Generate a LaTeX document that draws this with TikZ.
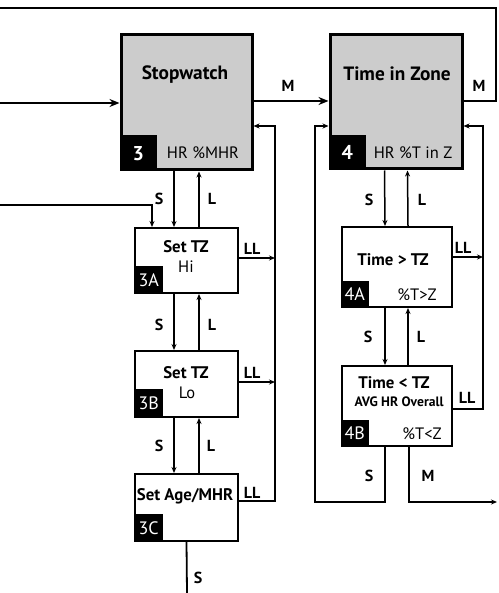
\documentclass[tikz,border=0pt]{standalone}
\usepackage{fontspec}
\setmainfont{PT Sans}
\usetikzlibrary{arrows.meta,calc}
\definecolor{boxgray}{gray}{0.8}
\begin{document}
\begin{tikzpicture}[x=1pt,y=-1pt,
  bigbox/.style={draw, line width=3pt, fill=boxgray, inner sep=0pt},
  smallbox/.style={draw, line width=2pt, fill=white, inner sep=0pt},
  tagbox/.style={fill=black, text=white, inner sep=0pt, anchor=south west, font=\fontsize{18}{20}\selectfont},
  bigtag/.style={tagbox, font=\bfseries\fontsize{20}{22}\selectfont},
  bigtitle/.style={font=\bfseries\fontsize{19.3}{22}\selectfont, inner sep=0pt},
  title/.style={font=\bfseries\fontsize{16.8}{19}\selectfont, inner sep=0pt},
  sub/.style={font=\fontsize{16.5}{18}\selectfont, inner sep=0pt},
  lbl/.style={font=\bfseries\fontsize{16}{18}\selectfont, inner sep=0pt},
  conn/.style={line width=1.5pt, -{Stealth[length=6pt,width=5pt]}},
  line/.style={line width=1.8pt},
  railarr/.style={line width=1.8pt, -{Stealth[length=6pt,width=5pt]}},
  thickarr/.style={line width=2.6pt, -{Stealth[length=10pt,width=8pt]}},
  thickline/.style={line width=2.6pt}
]
\useasboundingbox (0,0) rectangle (498,593);

% main boxes
\node[bigbox, minimum width=131pt, minimum height=135pt] (sw) at (186.5,102.5) {};
\node[bigbox, minimum width=132pt, minimum height=134pt] (tz) at (396,102) {};
\node[bigtag, minimum width=37pt, minimum height=36pt] (swtag) at (sw.south west) {3};
\node[bigtag, minimum width=37pt, minimum height=35pt] (tztag) at (tz.south west) {4};
\node[bigtitle] (swt) at (185,75) {Stopwatch};
\node[sub] (sws) at (203,153) {HR \%MHR};
\node[bigtitle] (tzt) at (397,74) {Time in Zone};
\node[sub] (tzs) at (413,153) {HR \%T in Z};

% left column
\node[smallbox, minimum width=103pt, minimum height=65pt] (a3) at (186.5,260.5) {};
\node[smallbox, minimum width=103pt, minimum height=66pt] (b3) at (186.5,384) {};
\node[smallbox, minimum width=103pt, minimum height=67pt] (c3) at (186.5,507.5) {};
\node[tagbox, minimum width=29pt, minimum height=28pt] (a3tag) at (a3.south west) {3A};
\node[tagbox, minimum width=29pt, minimum height=29pt] (b3tag) at (b3.south west) {3B};
\node[tagbox, minimum width=29pt, minimum height=28pt] (c3tag) at (c3.south west) {3C};
\node[title] (a3t) at (186,247) {Set TZ};
\node[sub] (a3s) at (186,267) {Hi};
\node[title] (b3t) at (186,373) {Set TZ};
\node[sub] (b3s) at (187,393) {Lo};
\node[title] (c3t) at (185,496) {Set Age/MHR};

% right column
\node[smallbox, minimum width=110pt, minimum height=80pt] (a4) at (396.5,267) {};
\node[smallbox, minimum width=110pt, minimum height=80pt] (b4) at (396.5,406) {};
\node[tagbox, minimum width=28pt, minimum height=27pt] (a4tag) at (a4.south west) {4A};
\node[tagbox, minimum width=28pt, minimum height=27pt] (b4tag) at (b4.south west) {4B};
\node[title] (a4t) at (393,260) {Time > TZ};
\node[sub] (a4s) at (417,295) {\%T>Z};
\node[title] (b4t) at (394,383) {Time < TZ};
\node[font=\bfseries\fontsize{13.6}{15}\selectfont, inner sep=0pt] (b4m) at (399,402) {AVG HR Overall};
\node[sub] (b4s) at (422,434) {\%T<Z};

% free-end coordinates
\coordinate (inA) at (0,103);
\coordinate (inB) at (0,205);
\coordinate (topL) at (0,8);
\coordinate (topR) at (496,8);
\coordinate (loopR) at (496,101);
\coordinate (r1top) at (275,126);
\coordinate (r1bot) at (275,501);
\coordinate (r2top) at (483,126);
\coordinate (r3top) at (315,126);
\coordinate (r3bot) at (315,502);
\coordinate (outM) at (497,502);
\coordinate (outS) at (187,593);

% top connectors
\draw[thickarr] (inA) -- (inA -| sw.west);
\draw[thickarr] ([yshift=1.5pt]sw.east) -- ([yshift=1pt]tz.west);
\draw[thickline] ([yshift=1pt]tz.east) -- (loopR) -- (topR) -- (topL);

% left column S / L
\draw[conn] ([xshift=-12.5pt]sw.south) -- ([xshift=-12.5pt]a3.north);
\draw[conn] ([xshift=12.5pt]a3.north) -- ([xshift=12.5pt]sw.south);
\draw[conn] ([xshift=-12.5pt]a3.south) -- ([xshift=-12.5pt]b3.north);
\draw[conn] ([xshift=12.5pt]b3.north) -- ([xshift=12.5pt]a3.south);
\draw[conn] ([xshift=-12.5pt]b3.south) -- ([xshift=-12.5pt]c3.north);
\draw[conn] ([xshift=12.5pt]c3.north) -- ([xshift=12.5pt]b3.south);
\draw[line] (c3.south) -- (outS);
\draw[conn] (inB) -| ([xshift=-34.5pt]a3.north);

% left rail
\draw[railarr] ([yshift=6.5pt]c3.east) -- (r1bot) -- (r1top) -- (r1top -| sw.east);
\draw[railarr] ([yshift=2.5pt]a3.east) -- ([yshift=2.5pt]a3.east -| r1top);
\draw[railarr] ([yshift=2pt]b3.east) -- ([yshift=2pt]b3.east -| r1top);

% right column S / L
\draw[conn] ([xshift=-11.5pt]tz.south) -- ([xshift=-11.5pt]a4.north);
\draw[conn] ([xshift=11.5pt]a4.north) -- ([xshift=11.5pt]tz.south);
\draw[conn] ([xshift=-11.5pt]a4.south) -- ([xshift=-11.5pt]b4.north);
\draw[conn] ([xshift=11.5pt]b4.north) -- ([xshift=11.5pt]a4.south);

% right rail
\draw[railarr] ([yshift=-3pt]b4.east) -| (r2top) -- (r2top -| tz.east);
\draw[railarr] ([yshift=10pt]a4.east) -- ([yshift=10pt]a4.east -| r2top);

% bottom loops of 4B
\draw[railarr] ([xshift=-11.5pt]b4.south) |- (r3bot) -- (r3top) -- (r3top -| tz.west);
\draw[railarr] ([xshift=12.5pt]b4.south) |- (outM);

% labels
\node[lbl] at (288,86) {M};
\node[lbl] at (479,86) {M};
\node[lbl] at (159,199) {S};
\node[lbl] at (212,199) {L};
\node[lbl] at (159,325) {S};
\node[lbl] at (212,325) {L};
\node[lbl] at (159,446) {S};
\node[lbl] at (211,446) {L};
\node[lbl] at (198,578) {S};
\node[lbl] at (252,249) {LL};
\node[lbl] at (252,373) {LL};
\node[lbl] at (252,493) {LL};
\node[lbl] at (369,200) {S};
\node[lbl] at (422,200) {L};
\node[lbl] at (368,337) {S};
\node[lbl] at (421,337) {L};
\node[lbl] at (463,248) {LL};
\node[lbl] at (467,398) {LL};
\node[lbl] at (369,476) {S};
\node[lbl] at (428,476) {M};
\end{tikzpicture}
\end{document}
